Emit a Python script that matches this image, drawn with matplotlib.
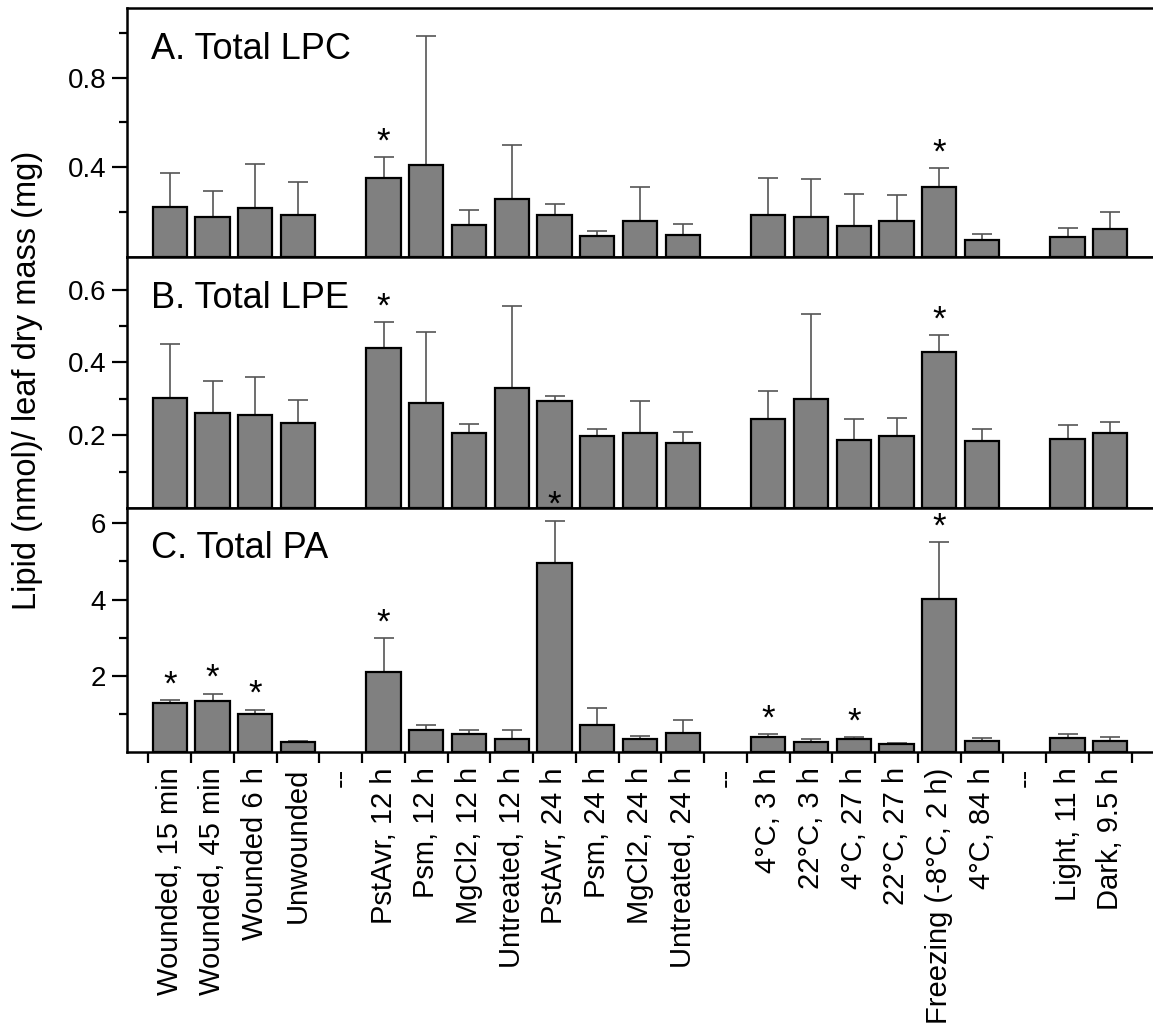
import numpy as np
import matplotlib
matplotlib.use("Agg")
import matplotlib.pyplot as plt
from matplotlib.ticker import FixedLocator

plt.rcParams['font.family'] = ['Liberation Sans', 'DejaVu Sans']

# Categories ("--" marks an empty separator slot)
labels = ["Wounded, 15 min", "Wounded, 45 min", "Wounded 6 h", "Unwounded", "--",
          "PstAvr, 12 h", "Psm, 12 h", "MgCl2, 12 h", "Untreated, 12 h",
          "PstAvr, 24 h", "Psm, 24 h", "MgCl2, 24 h", "Untreated, 24 h", "--",
          "4°C, 3 h", "22°C, 3 h", "4°C, 27 h", "22°C, 27 h", "Freezing (-8°C, 2 h)",
          "4°C, 84 h", "--", "Light, 11 h", "Dark, 9.5 h"]

# Panel A: total LPC (mean, top of error bar)
lpc_mean = [0.223, 0.178, 0.218, 0.187, None, 0.354, 0.409, 0.141, 0.257, 0.187, 0.095,
            0.160, 0.100, None, 0.189, 0.180, 0.140, 0.162, 0.314, 0.077, None, 0.089, 0.126]
lpc_top = [0.373, 0.293, 0.416, 0.333, None, 0.446, 0.984, 0.211, 0.498, 0.235, 0.116,
           0.314, 0.147, None, 0.354, 0.349, 0.281, 0.276, 0.395, 0.103, None, 0.131, 0.201]
lpc_sig = [5, 18]

# Panel B: total LPE
lpe_mean = [0.303, 0.262, 0.255, 0.233, None, 0.439, 0.288, 0.206, 0.329, 0.295, 0.199,
            0.207, 0.180, None, 0.244, 0.299, 0.187, 0.197, 0.428, 0.185, None, 0.189, 0.205]
lpe_top = [0.451, 0.349, 0.360, 0.298, None, 0.510, 0.484, 0.231, 0.555, 0.307, 0.216,
           0.293, 0.209, None, 0.322, 0.534, 0.245, 0.247, 0.475, 0.217, None, 0.227, 0.236]
lpe_sig = [5, 18]

# Panel C: total PA
pa_mean = [1.28, 1.33, 0.99, 0.26, None, 2.10, 0.57, 0.47, 0.35, 4.96, 0.71,
           0.35, 0.49, None, 0.39, 0.27, 0.35, 0.20, 4.02, 0.29, None, 0.37, 0.30]
pa_top = [1.37, 1.53, 1.11, 0.30, None, 2.98, 0.70, 0.58, 0.57, 6.07, 1.15,
          0.43, 0.85, None, 0.46, 0.33, 0.40, 0.23, 5.50, 0.37, None, 0.47, 0.40]
pa_sig = [0, 1, 2, 5, 9, 14, 16, 18]

panels = [
    ("A. Total LPC", lpc_mean, lpc_top, lpc_sig, 1.11, [0.4, 0.8], [0.2, 0.6, 1.0], "{:.1f}"),
    ("B. Total LPE", lpe_mean, lpe_top, lpe_sig, 0.69, [0.2, 0.4, 0.6], [0.1, 0.3, 0.5], "{:.1f}"),
    ("C. Total PA", pa_mean, pa_top, pa_sig, 6.4, [2, 4, 6], [1, 3, 5], "{:d}"),
]

W, H = 1153, 1023
fig = plt.figure(figsize=(W / 100, H / 100), dpi=100)

left = 127 / W
right = 1.0
edges = [8, 257, 508, 752]

x_all = np.arange(len(labels))
for k, (title, mean, top, sig, ymax, majors, minors, fmt) in enumerate(panels):
    y0 = 1 - edges[k + 1] / H
    y1 = 1 - edges[k] / H
    ax = fig.add_axes([left, y0, right - left, y1 - y0])
    idx = [i for i, m in enumerate(mean) if m is not None]
    xs = x_all[idx]
    m = np.array([mean[i] for i in idx])
    t = np.array([top[i] for i in idx])
    ax.errorbar(xs, m, yerr=[np.zeros_like(m), t - m], fmt='none', ecolor='#555555',
                elinewidth=1.2, capsize=7, capthick=1.2, zorder=1)
    ax.bar(xs, m, width=0.8, color='#808080', edgecolor='black', linewidth=1.6, zorder=2)
    for i in sig:
        ax.annotate("*", (x_all[i], top[i]), xytext=(0, -1), textcoords='offset points',
                    ha='center', va='bottom', fontsize=25, annotation_clip=False)
    ax.set_xlim(-1, 23)
    ax.set_ylim(0, ymax)
    ax.yaxis.set_major_locator(FixedLocator(majors))
    ax.yaxis.set_minor_locator(FixedLocator(minors))
    ax.set_yticklabels([fmt.format(v) for v in majors])
    ax.tick_params(axis='y', which='major', length=11, width=1.6, labelsize=20, pad=4)
    ax.tick_params(axis='y', which='minor', length=6, width=1.6)
    ax.spines['right'].set_visible(False)
    for s in ['left', 'top', 'bottom']:
        ax.spines[s].set_linewidth(1.8)
    ax.text(0.023, 0.905, title, transform=ax.transAxes, fontsize=26, va='top', ha='left')
    if k < 2:
        ax.set_xticks([])
    else:
        ax.set_xticks(np.arange(-0.5, 23, 1.0))
        ax.set_xticklabels([])
        ax.set_xticks(x_all, minor=True)
        ax.set_xticklabels(labels, minor=True, rotation=90, fontsize=21)
        ax.tick_params(axis='x', which='major', length=8, width=1.6, direction='out')
        ax.tick_params(axis='x', which='minor', length=0, pad=11)

fig.text(28 / W, 1 - 380 / H, "Lipid (nmol)/ leaf dry mass (mg)", rotation=90,
         va='center', ha='center', fontsize=23.5)

fig.savefig("out.png", dpi=100)
